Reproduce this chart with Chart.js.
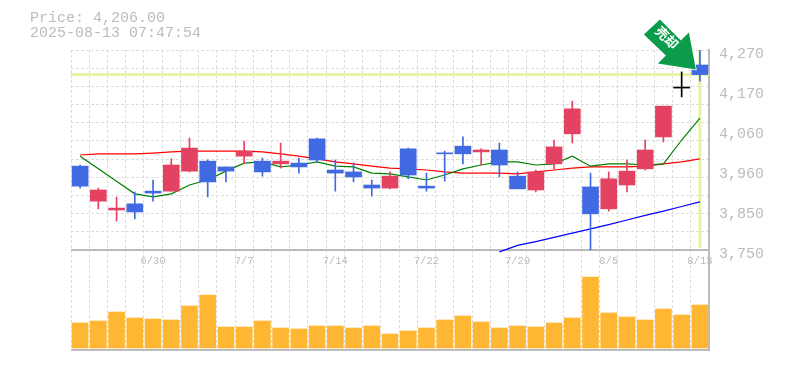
<!DOCTYPE html>
<html>
<head>
<meta charset="utf-8">
<script src="https://cdn.jsdelivr.net/npm/chart.js@4"></script>
<style>
	body {margin: 0; background: #fff;}
	canvas {display: block;}
</style>
</head>
<body>
<canvas id="myChart" width="785" height="370"></canvas>
<script>
const dates = ['6/24','6/25','6/26','6/27','6/30','7/1','7/2','7/3','7/4','7/7','7/8','7/9','7/10','7/11','7/14','7/15','7/16','7/17','7/18','7/22','7/23','7/24','7/25','7/28','7/29','7/30','7/31','8/1','8/4','8/5','8/6','8/7','8/8','8/12','8/13'];
const dateTicks = ['6/30','7/7','7/14','7/22','7/29','8/5','8/13'];

const opens  = [3968,3877,3854,3870,3903,3903,3955,3981,3966,3994,3981,3974,3976,4039,3958,3953,3919,3911,4013,3916,4002,4020,4005,4010,3942,3906,3974,4052,3914,3857,3919,3961,4044,4171,4231];
const closes = [3916,3906,3859,3849,3898,3971,4015,3927,3955,4007,3953,3981,3966,3984,3950,3940,3911,3942,3945,3911,4000,4000,4010,3971,3909,3953,4018,4117,3844,3935,3955,4010,4124,4171,4206];
const highs  = [3971,3911,3888,3901,3932,3987,4041,3984,3966,4033,3989,4028,3989,4041,3984,3976,3932,3953,4015,3950,4007,4044,4013,4028,3953,3958,4036,4137,3950,3953,3984,4036,4124,4213,4270];
const lows   = [3911,3857,3825,3831,3877,3903,3953,3888,3927,3974,3942,3963,3950,3979,3903,3927,3890,3909,3935,3903,3929,3974,3971,3940,3909,3901,3961,4028,3750,3851,3901,3958,4031,4148,4189];

const maShort = [3994,3961,3929,3896,3888,3896,3919,3932,3955,3976,3979,3966,3971,3979,3968,3966,3950,3948,3940,3932,3945,3961,3971,3979,3979,3971,3974,3994,3968,3974,3974,3971,3974,4036,4093];
const maMid   = [3997,4000,4000,4000,4002,4005,4007,4007,4007,4007,4005,4000,3994,3987,3979,3974,3968,3963,3961,3958,3953,3950,3950,3950,3948,3953,3958,3963,3966,3966,3966,3968,3974,3979,3987];
const maLong  = [null,null,null,null,null,null,null,null,null,null,null,null,null,null,null,null,null,null,null,null,null,null,null,3745,3762,3772,3783,3794,3805,3816,3828,3840,3851,3863,3875];

const volumes = [25,27,36,30,29,28,42,53,21,21,27,20,19,22,22,20,22,14,17,20,28,32,26,20,22,21,25,30,71,35,31,28,39,33,43];

const priceLabels = ['3,750','3,850','3,960','4,060','4,170','4,270'];
const currentPrice = 4206;
const priceTime = '2025-08-13 07:47:54';

const UP = '#e34262', DOWN = '#4169e1', FLAT = '#000000';
const candleColors = opens.map((o, i) => closes[i] > o ? UP : closes[i] < o ? DOWN : FLAT);
const GRAY = '#bcbcbc';
const monoFont = 'Liberation Mono';

// current price lines go under the candles, the arrow goes on top
const marks = {
	id: 'marks',
	beforeDatasetsDraw(chart) {
		const {ctx, chartArea, scales} = chart;
		const y = scales.y.getPixelForValue(currentPrice);
		const x = scales.x.getPixelForValue(dates.length - 1);
		ctx.save();
		ctx.strokeStyle = '#e4f3a5';
		ctx.lineWidth = 3;
		ctx.beginPath();
		ctx.moveTo(chartArea.left, y);
		ctx.lineTo(chartArea.right, y);
		ctx.moveTo(x, chartArea.top);
		ctx.lineTo(x, scales.y.getPixelForValue(3755));
		ctx.stroke();
		ctx.restore();
	},
	afterDatasetsDraw(chart) {
		const {ctx, scales} = chart;
		const tipX = scales.x.getPixelForValue(dates.length - 1) - 4;
		const tipY = scales.y.getPixelForValue(currentPrice) - 5;
		const shape = [[-36,-50],[-52,-35],[-30,-14],[-38,-6],[0,0],[-7,-37],[-15,-29]];
		ctx.save();
		ctx.translate(tipX, tipY);
		ctx.beginPath();
		shape.forEach(p => ctx.lineTo(p[0], p[1]));
		ctx.closePath();
		ctx.strokeStyle = '#fff';
		ctx.lineWidth = 1.5;
		ctx.stroke();
		ctx.fillStyle = '#0a9c4a';
		ctx.fill();
		ctx.fillStyle = '#fff';
		ctx.font = 'bold 13px "Noto Sans CJK JP"';
		ctx.textAlign = 'center';
		ctx.textBaseline = 'middle';
		ctx.translate(-29, -32);
		ctx.rotate(Math.PI / 4);
		ctx.fillText('売却', 0, 0);
		ctx.restore();
	}
};

const myChart = document.getElementById('myChart');

let candleChart = new Chart(myChart, {
	type: 'bar',
	plugins: [marks],
	data: {
		labels: dates,
		datasets: [
			{
				// body
				data: opens.map((o, i) => [o, closes[i]]),
				yAxisID: 'y',
				backgroundColor: candleColors,
				barThickness: 16,
				minBarLength: 1,
				grouped: false,
				order: 1
			},
			{
				// wick
				data: lows.map((l, i) => [l, highs[i]]),
				yAxisID: 'y',
				backgroundColor: candleColors,
				barThickness: 1,
				grouped: false,
				order: 2
			},
			{type: 'line', data: maShort, yAxisID: 'y', borderColor: '#008000', borderWidth: 1.2, pointRadius: 0, order: 3},
			{type: 'line', data: maMid, yAxisID: 'y', borderColor: '#ff0000', borderWidth: 1.2, pointRadius: 0, order: 3},
			{type: 'line', data: maLong, yAxisID: 'y', borderColor: '#0000ff', borderWidth: 1.2, pointRadius: 0, order: 3},
			{
				data: volumes,
				yAxisID: 'yVol',
				backgroundColor: '#ffb733',
				barThickness: 16,
				grouped: false,
				order: 4
			}
		]
	},
	options: {
		responsive: false,
		animation: false,
		layout: {padding: {left: 30, bottom: 20}},
		plugins: {
			legend: {display: false},
			tooltip: {enabled: false},
			title: {
				display: true,
				align: 'start',
				text: ['Price: ' + currentPrice.toLocaleString('en-US', {minimumFractionDigits: 2}), priceTime],
				color: GRAY,
				font: {family: monoFont, size: 15, weight: 'normal', lineHeight: 1},
				padding: {top: 11, bottom: 9}
			}
		},
		scales: {
			x: {
				position: {y: 3750},
				offset: true,
				grid: {offset: true, color: '#dddddd', drawTicks: false},
				border: {display: false, dash: [3, 2]},
				ticks: {
					autoSkip: false,
					maxRotation: 0,
					padding: 5,
					color: GRAY,
					font: {family: monoFont, size: 10.5},
					callback: function(value) {
						const label = this.getLabelForValue(value);
						return dateTicks.includes(label) ? label : '';
					}
				}
			},
			// price labels on the right
			y: {
				position: 'right',
				min: 3490,
				max: 4270,
				afterBuildTicks: scale => {
					scale.ticks = priceLabels.map((_, i) => ({value: 3750 + i * 104}));
				},
				afterFit: scale => { scale.width = 76; },
				grid: {drawOnChartArea: false, drawTicks: false},
				border: {color: '#bbbbbb', width: 2},
				ticks: {
					padding: 10,
					labelOffset: 4,
					color: GRAY,
					font: {family: monoFont, size: 15},
					callback: (value, i) => priceLabels[i]
				}
			},
			// only here for the horizontal grid, which does not line up with the labels
			yGrid: {
				position: 'left',
				min: 3490,
				max: 4270,
				afterBuildTicks: scale => {
					let gridTicks = [{value: 3490}];
					for (let i = 0; i < 12; i++) gridTicks.push({value: 3750 + i * 520 / 11});
					scale.ticks = gridTicks;
				},
				afterFit: scale => { scale.width = 41; },
				grid: {
					drawTicks: false,
					color: c => c.tick.value <= 3750 ? '#bbbbbb' : '#dddddd',
					lineWidth: c => c.tick.value <= 3750 ? 2 : 1
				},
				border: {display: false, dash: c => c.tick && c.tick.value <= 3750 ? [] : [3, 2]},
				ticks: {display: false}
			},
			yVol: {
				display: false,
				min: -2,
				max: 298
			}
		}
	}
});
</script>
</body>
</html>
